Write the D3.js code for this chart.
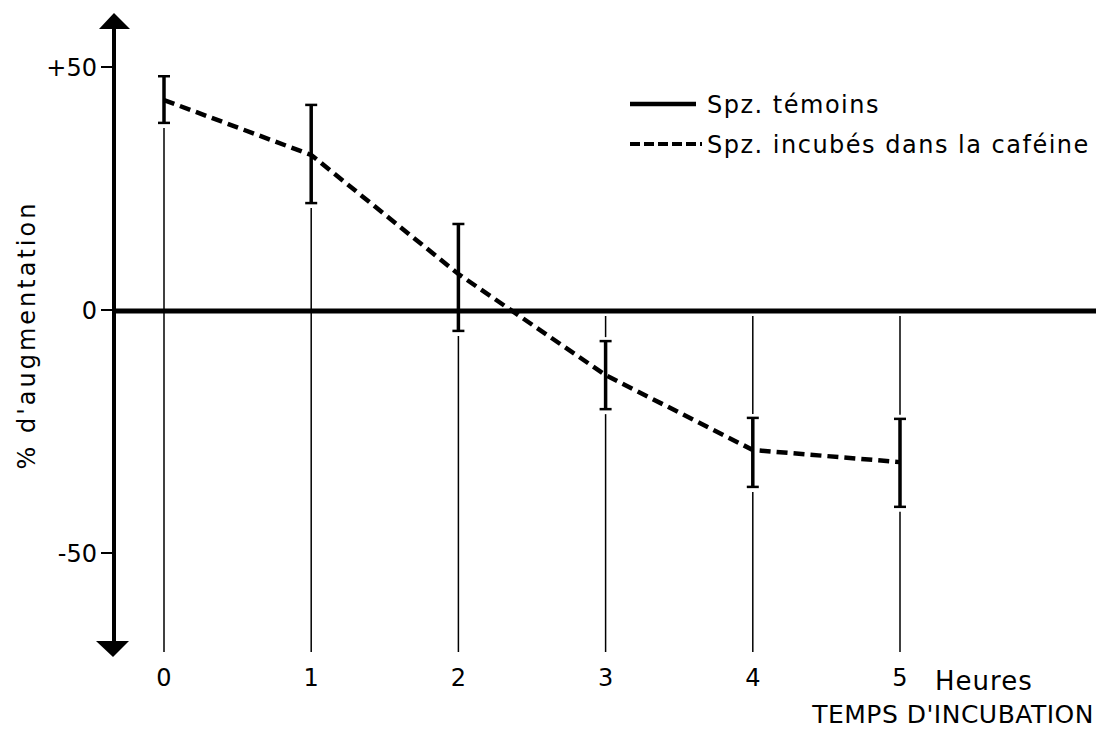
<!DOCTYPE html>
<html>
<head>
<meta charset="utf-8">
<script src="https://cdn.jsdelivr.net/npm/d3@7"></script>
<style>
  html, body { margin: 0; padding: 0; background: #fff; }
  svg { display: block; font-family: "DejaVu Sans", sans-serif; }
</style>
</head>
<body>
<div class="chart"></div>
<script>
// data
const hours = [0, 1, 2, 3, 4, 5];
const cafeineMean  = [43.2, 31.9, 7.4, -13.4, -28.8, -31.3];
const cafeineUpper = [48.1, 42.2, 17.7, -6.4, -22.2, -22.4];
const cafeineLower = [38.5, 22.0, -4.3, -20.4, -36.4, -40.5];
const temoins = [0, 0, 0, 0, 0, 0];
const yTicks = [50, 0, -50];
const yTickLabels = ["+50", "0", "-50"];
const xTickLabels = ["0", "1", "2", "3", "4", "5"];
const legendLabels = ["Spz. témoins", "Spz. incubés dans la caféine"];

const width = 1106, height = 731;

const x = d3.scaleLinear().domain([0, 5]).range([164, 900]);
const y = d3.scaleLinear().domain([-50, 50]).range([553, 67]);

const axisX = 114;        // vertical axis position
const axisTop = 13, axisBottom = 657;
const thinBottom = 652;
const rightEnd = 1096;

const svg = d3.select(".chart").append("svg")
  .attr("width", width)
  .attr("height", height)
  .attr("viewBox", [0, 0, width, height]);

const pts = hours.map((h, i) => ({
  h, m: cafeineMean[i], hi: cafeineUpper[i], lo: cafeineLower[i]
}));

// thin vertical guide lines, broken around the error bars and the zero line
const guides = svg.append("g").attr("stroke", "#000").attr("stroke-width", 1.5);
pts.forEach(d => {
  const segs = [];
  const cx = x(d.h);
  if (d.hi < 0) {
    segs.push([y(0) + 6, y(d.hi) - 4]);
  }
  segs.push([y(d.lo) + 5, thinBottom]);
  segs.forEach(([a, b]) => {
    guides.append("line")
      .attr("x1", cx).attr("x2", cx)
      .attr("y1", a).attr("y2", b);
  });
});

// control line (témoins) along zero
svg.append("line")
  .attr("x1", axisX).attr("x2", rightEnd)
  .attr("y1", y(d3.mean(temoins)) + 1).attr("y2", y(d3.mean(temoins)) + 1)
  .attr("stroke", "#000").attr("stroke-width", 5);

// y axis with arrows
svg.append("line")
  .attr("x1", axisX).attr("x2", axisX)
  .attr("y1", axisTop + 10).attr("y2", axisBottom - 10)
  .attr("stroke", "#000").attr("stroke-width", 4);
svg.append("path")
  .attr("d", `M${axisX},${axisTop} L${axisX + 16},${axisTop + 16} L${axisX - 15},${axisTop + 16} Z`)
  .attr("fill", "#000");
svg.append("path")
  .attr("d", `M${axisX - 1},${axisBottom} L${axisX + 15},${axisBottom - 16} L${axisX - 18},${axisBottom - 16} Z`)
  .attr("fill", "#000");

// y ticks
const yt = svg.append("g");
yTicks.forEach((t, i) => {
  yt.append("line")
    .attr("x1", axisX - 13).attr("x2", axisX)
    .attr("y1", y(t)).attr("y2", y(t))
    .attr("stroke", "#000").attr("stroke-width", 2);
  yt.append("text")
    .attr("x", axisX - 17).attr("y", y(t))
    .attr("dy", "0.36em")
    .attr("text-anchor", "end")
    .attr("font-size", 24)
    .text(yTickLabels[i]);
});

// y label
svg.append("text")
  .attr("transform", `translate(35, 335) rotate(-90)`)
  .attr("text-anchor", "middle")
  .attr("font-size", 24)
  .attr("letter-spacing", 3)
  .text("% d'augmentation");

// x tick labels
svg.append("g")
  .selectAll("text")
  .data(hours)
  .join("text")
  .attr("x", d => x(d))
  .attr("y", 677)
  .attr("dy", "0.36em")
  .attr("text-anchor", "middle")
  .attr("font-size", 24)
  .text((d, i) => xTickLabels[i]);

svg.append("text")
  .attr("x", 935).attr("y", 681)
  .attr("dy", "0.36em")
  .attr("font-size", 26)
  .attr("letter-spacing", 1)
  .text("Heures");

svg.append("text")
  .attr("x", 1094).attr("y", 714)
  .attr("dy", "0.36em")
  .attr("text-anchor", "end")
  .attr("font-size", 25)
  .attr("letter-spacing", 0.5)
  .text("TEMPS D'INCUBATION");

// caffeine dashed line
const line = d3.line().x(d => x(d.h)).y(d => y(d.m));
svg.append("path")
  .datum(pts)
  .attr("d", line)
  .attr("fill", "none")
  .attr("stroke", "#000")
  .attr("stroke-width", 4.5)
  .attr("stroke-dasharray", "11,6");

// error bars
const eb = svg.append("g").attr("stroke", "#000");
pts.forEach(d => {
  const cx = x(d.h);
  eb.append("line")
    .attr("x1", cx).attr("x2", cx)
    .attr("y1", y(d.hi)).attr("y2", y(d.lo))
    .attr("stroke-width", 3.5);
  [d.hi, d.lo].forEach(v => {
    eb.append("line")
      .attr("x1", cx - 6).attr("x2", cx + 6)
      .attr("y1", y(v)).attr("y2", y(v))
      .attr("stroke-width", 2.5);
  });
});

// legend
const lg = svg.append("g").attr("transform", "translate(630, 104)");
lg.append("line")
  .attr("x1", 0).attr("x2", 66).attr("y1", 0).attr("y2", 0)
  .attr("stroke", "#000").attr("stroke-width", 4.5);
lg.append("line")
  .attr("x1", 0).attr("x2", 72).attr("y1", 40).attr("y2", 40)
  .attr("stroke", "#000").attr("stroke-width", 4)
  .attr("stroke-dasharray", "10,4");
lg.selectAll("text")
  .data(legendLabels)
  .join("text")
  .attr("x", 77)
  .attr("y", (d, i) => i * 40)
  .attr("dy", "0.36em")
  .attr("font-size", 24)
  .attr("letter-spacing", 1.5)
  .text(d => d);
</script>
</body>
</html>
